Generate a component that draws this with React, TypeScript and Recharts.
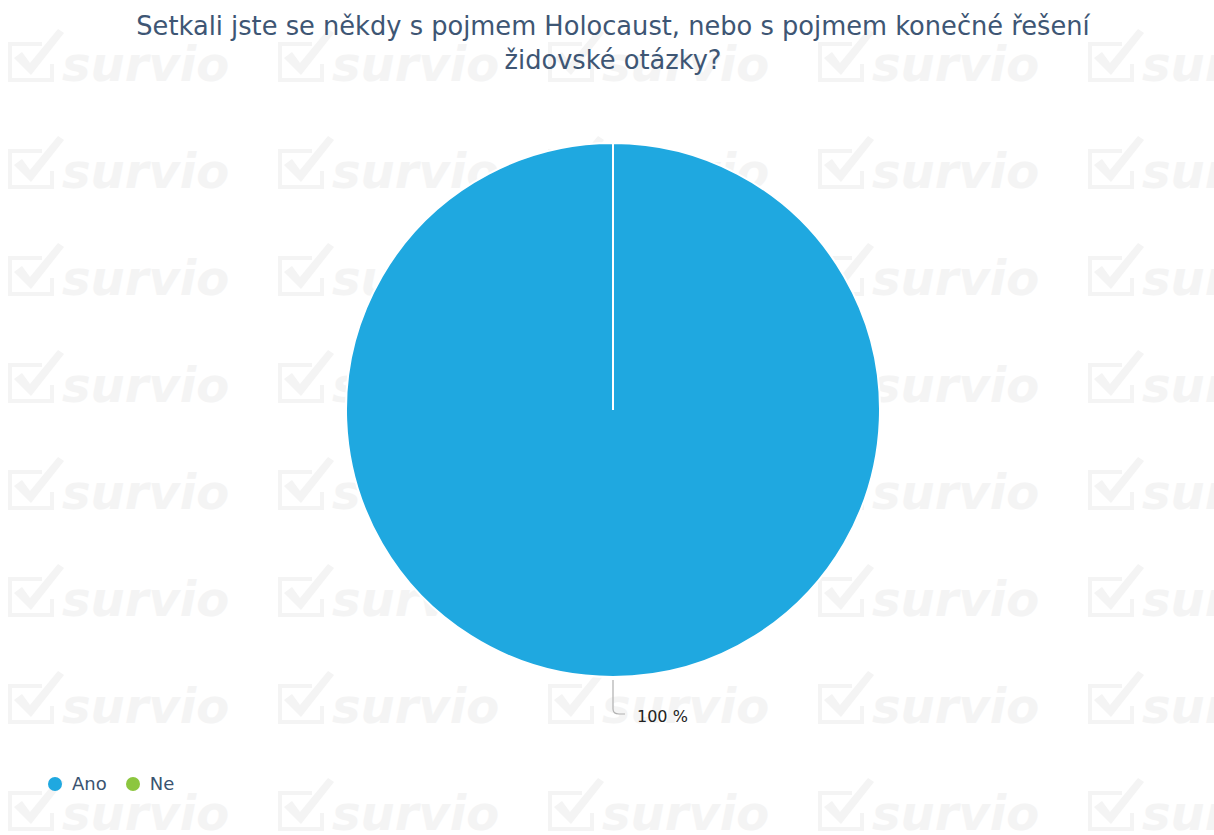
import React from "react";
import { PieChart, Pie, Cell, Legend } from "recharts";

const categories = ["Ano", "Ne"];
const values = [100, 0];
const colors = ["#1fa8e0", "#8cc63f"];
const titleLines = [
  "Setkali jste se někdy s pojmem Holocaust, nebo s pojmem konečné řešení",
  "židovské otázky?",
];

const data = categories.map((name, i) => ({ name, value: values[i] }));

const W = 1214;
const H = 835;
const FONT = "'DejaVu Sans', Verdana, sans-serif";

// faint "survio" watermark tiles
function Watermark() {
  const cols = [0, 270, 540, 810, 1080];
  const rows = [0, 107, 214, 321, 428, 535, 642, 749];
  const fill = "#f4f4f4";
  return (
    <svg width={W} height={H} style={{ position: "absolute", left: 0, top: 0 }}>
      {rows.map((dy) =>
        cols.map((dx) => (
          <g key={`${dx}-${dy}`} transform={`translate(${dx + 8},${dy})`}>
            <path
              d="M34,44 L2,44 L2,80 L44,80 L44,64"
              fill="none"
              stroke={fill}
              strokeWidth={4}
            />
            <path d="M6,58 L14,52 L22,63 L50,29 L56,33 L23,75 Z" fill={fill} />
            <text
              x={54}
              y={81}
              fontFamily={FONT}
              fontWeight="bold"
              fontStyle="italic"
              fontSize={48}
              fill={fill}
            >
              survio
            </text>
          </g>
        ))
      )}
    </svg>
  );
}

const renderLabel = (props: any) => {
  const { cx, cy, midAngle, outerRadius, value } = props;
  if (!value) return null;
  const rad = (-midAngle * Math.PI) / 180;
  const x0 = cx + (outerRadius + 3) * Math.cos(rad);
  const y0 = cy + (outerRadius + 3) * Math.sin(rad);
  const y1 = y0 + 29;
  return (
    <g>
      <path
        d={`M${x0},${y0} L${x0},${y1} Q${x0},${y1 + 5} ${x0 + 6},${y1 + 5} L${x0 + 12},${y1 + 5}`}
        fill="none"
        stroke="#b0b0b0"
        strokeWidth={1.2}
      />
      <text x={x0 + 24} y={y1 + 13} fontFamily={FONT} fontSize={16} fill="#222">
        {`${value} %`}
      </text>
    </g>
  );
};

const renderLegend = () => (
  <div style={{ display: "flex", fontFamily: FONT, fontSize: 18, color: "#3a5370" }}>
    {categories.map((c, i) => (
      <div key={c} style={{ display: "flex", alignItems: "center", marginRight: 19 }}>
        <span
          style={{
            width: 14,
            height: 14,
            borderRadius: 7,
            background: colors[i],
            display: "inline-block",
            marginRight: 10,
          }}
        />
        <span>{c}</span>
      </div>
    ))}
  </div>
);

export default function App() {
  return (
    <div
      style={{
        position: "absolute",
        left: 0,
        top: 0,
        width: W,
        height: H,
        background: "#fff",
        overflow: "hidden",
      }}
    >
      <Watermark />
      <div
        style={{
          position: "absolute",
          left: 6,
          top: 9,
          width: W,
          textAlign: "center",
          fontFamily: FONT,
          fontSize: 25.7,
          lineHeight: "34px",
          color: "#3e5674",
        }}
      >
        {titleLines.map((l) => (
          <div key={l}>{l}</div>
        ))}
      </div>
      <div style={{ position: "absolute", left: 0, top: 0 }}>
        <PieChart width={W} height={H} margin={{ top: 0, right: 0, bottom: 0, left: 0 }}>
          <Pie
            data={data}
            dataKey="value"
            nameKey="name"
            cx={613}
            cy={410}
            outerRadius={267}
            startAngle={90}
            endAngle={-270}
            stroke="#fff"
            strokeWidth={2}
            label={renderLabel}
            labelLine={false}
            isAnimationActive={false}
          >
            {data.map((d, i) => (
              <Cell key={d.name} fill={colors[i]} />
            ))}
          </Pie>
          <Legend
            content={renderLegend}
            wrapperStyle={{ left: 48, top: 773, width: 300 }}
          />
        </PieChart>
      </div>
    </div>
  );
}
